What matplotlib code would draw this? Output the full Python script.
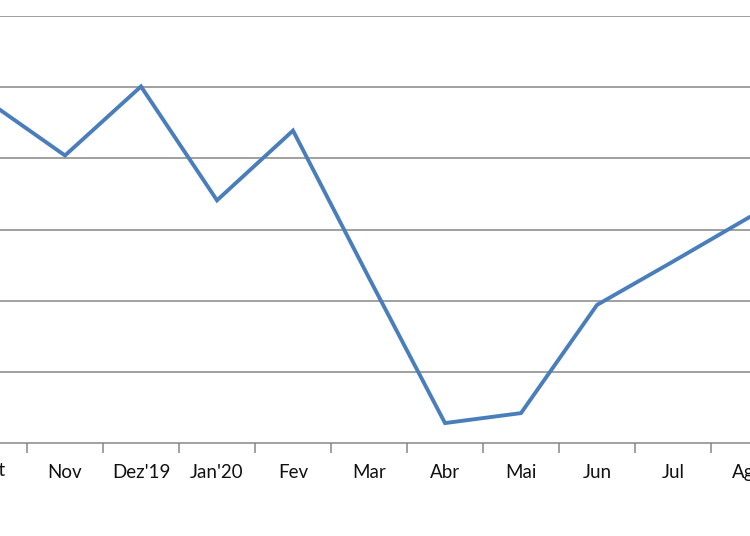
import matplotlib
matplotlib.use("Agg")
import matplotlib.pyplot as plt
import matplotlib.transforms as mtransforms

# monthly values (arbitrary units, gridline = 1)
months = ["Out", "Nov", "Dez'19", "Jan'20", "Fev", "Mar", "Abr", "Mai", "Jun", "Jul", "Ago"]
values = [4.79, 4.04, 5.01, 3.41, 4.39, 2.32, 0.28, 0.42, 1.94, 2.55, 3.17]

plt.rcParams['font.family'] = ['Lato', 'DejaVu Sans']

fig = plt.figure(figsize=(7.5, 5.36), dpi=100)
# axes cover the full width; the chart is cropped at both sides
ax = fig.add_axes([0, 93 / 536, 1, (536 - 93 - 16) / 536])

x = list(range(len(months)))
ax.plot(x, values, color='#4a7ebb', linewidth=2.8, solid_joinstyle='miter', zorder=3)

ax.set_yticks(range(1, 7))
ax.yaxis.grid(True, color='#868686', linewidth=1.1)
ax.tick_params(axis='y', left=False, labelleft=False)

# category labels centred, tick marks between categories
ax.set_xticks(x)
ax.set_xticklabels(months, fontsize=13.5, color='#111111')
ax.set_xticks([i + 0.5 for i in range(-1, len(months))], minor=True)
ax.tick_params(axis='x', which='major', length=0, pad=15)
ax.tick_params(axis='x', which='minor', length=7, color='#868686', width=1.1)

ax.set_xlim(11 / 76.0, 761 / 76.0)
ax.set_ylim(0, 6)

# first label sits just outside the view limits, draw it by hand so its tail shows
trans = mtransforms.blended_transform_factory(ax.transData, fig.transFigure)
ax.text(x[0], 1 - 471 / 536, months[0], transform=trans, ha='center', va='center',
        fontsize=13.5, color='#111111', clip_on=False)

for side in ['left', 'right', 'top']:
    ax.spines[side].set_visible(False)
ax.spines['bottom'].set_color('#868686')
ax.spines['bottom'].set_linewidth(1.1)

fig.savefig("out.png", dpi=100)
